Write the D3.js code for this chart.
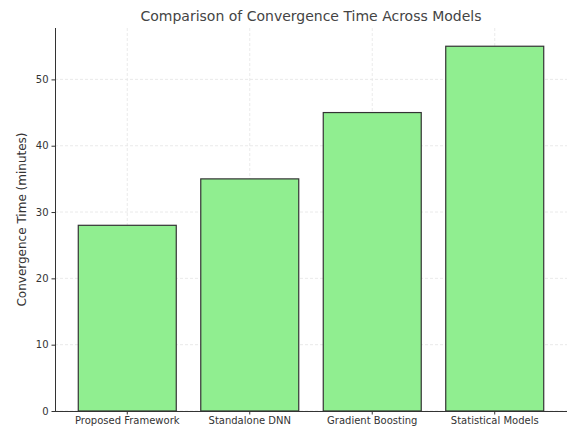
<!DOCTYPE html>
<html>
<head>
<meta charset="utf-8">
<script src="https://cdn.jsdelivr.net/npm/d3@7"></script>
<style>
  body { margin: 0; background: #fff; }
  svg { font-family: "DejaVu Sans", sans-serif; }
</style>
</head>
<body>
<svg id="chart" width="572" height="430"></svg>
<script>
const models = ["Proposed Framework", "Standalone DNN", "Gradient Boosting", "Statistical Models"];
const convergenceTime = [28, 35, 45, 55];
const yTicks = [0, 10, 20, 30, 40, 50];

const margin = { top: 28, right: 5, bottom: 19, left: 55 };
const width = 572, height = 430;

const svg = d3.select("#chart");

const x = d3.scaleBand()
  .domain(models)
  .range([margin.left, width - margin.right])
  .paddingInner(0.2)
  .paddingOuter(0.19);

const y = d3.scaleLinear()
  .domain([0, d3.max(convergenceTime) * 1.05])
  .range([height - margin.bottom, margin.top]);

// grid
const grid = svg.append("g").attr("class", "grid");
grid.selectAll(".hgrid").data(yTicks).enter().append("line")
  .attr("x1", margin.left).attr("x2", width - margin.right)
  .attr("y1", d => y(d)).attr("y2", d => y(d))
  .attr("stroke", "#e4e4e4").attr("stroke-width", 0.8)
  .attr("stroke-dasharray", "3,2");
grid.selectAll(".vgrid").data(models).enter().append("line")
  .attr("x1", d => x(d) + x.bandwidth() / 2).attr("x2", d => x(d) + x.bandwidth() / 2)
  .attr("y1", margin.top).attr("y2", height - margin.bottom)
  .attr("stroke", "#e4e4e4").attr("stroke-width", 0.8)
  .attr("stroke-dasharray", "3,2");

// bars
svg.selectAll(".bar").data(models).enter().append("rect")
  .attr("class", "bar")
  .attr("x", d => x(d))
  .attr("width", x.bandwidth())
  .attr("y", (d, i) => y(convergenceTime[i]))
  .attr("height", (d, i) => y(0) - y(convergenceTime[i]))
  .attr("fill", "#90ee90")
  .attr("stroke", "#333")
  .attr("stroke-width", 1.2);

// axes
const xAxis = svg.append("g")
  .attr("transform", `translate(0,${height - margin.bottom})`)
  .call(d3.axisBottom(x).tickSize(3.5).tickPadding(2));
const yAxis = svg.append("g")
  .attr("transform", `translate(${margin.left},0)`)
  .call(d3.axisLeft(y).tickValues(yTicks).tickSize(3.5).tickPadding(3));

[xAxis, yAxis].forEach(a => {
  a.select(".domain").attr("stroke", "#333").attr("stroke-width", 1);
  a.selectAll(".tick line").attr("stroke", "#333");
  a.selectAll(".tick text").attr("fill", "#333").style("font-size", "10px")
    .style("font-family", "DejaVu Sans, sans-serif");
});
// keep domain lines straight (no outer ticks)
xAxis.select(".domain").attr("d", `M${margin.left},0.5H${width - margin.right}`);
yAxis.select(".domain").attr("d", `M0.5,${height - margin.bottom}V${margin.top}`);

// title
svg.append("text")
  .attr("x", (margin.left + width - margin.right) / 2)
  .attr("y", 21)
  .attr("text-anchor", "middle")
  .attr("fill", "#444")
  .style("font-size", "14px")
  .text("Comparison of Convergence Time Across Models");

// y label
svg.append("text")
  .attr("transform", `translate(26,${(margin.top + height - margin.bottom) / 2}) rotate(-90)`)
  .attr("text-anchor", "middle")
  .attr("fill", "#333")
  .style("font-size", "12px")
  .text("Convergence Time (minutes)");
</script>
</body>
</html>
